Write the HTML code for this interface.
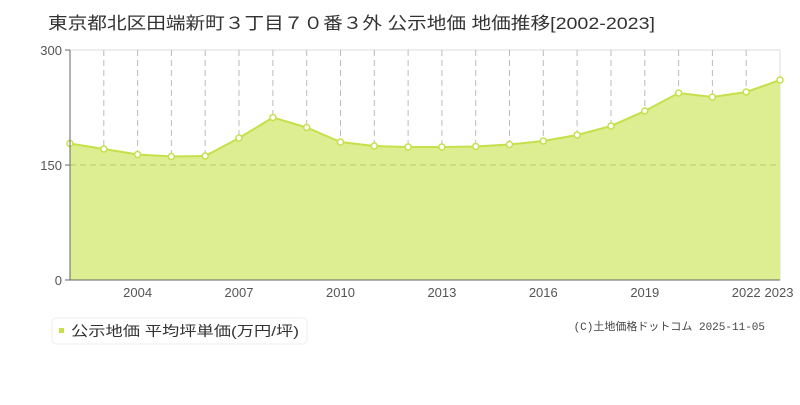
<!DOCTYPE html>
<html><head><meta charset="utf-8"><style>
body{margin:0;background:#fff;width:800px;height:400px;overflow:hidden;font-family:"Liberation Sans","Noto Sans CJK JP",sans-serif}
</style></head><body>
<svg width="800" height="400" xmlns="http://www.w3.org/2000/svg" font-family="Liberation Sans, Noto Sans CJK JP, sans-serif">
<text x="48" y="29" font-size="17" fill="#333" textLength="607" lengthAdjust="spacingAndGlyphs">東京都北区田端新町３丁目７０番３外 公示地価 地価推移[2002-2023]</text>
<line x1="70" y1="50" x2="780" y2="50" stroke="#ddd"/>
<line x1="780" y1="50" x2="780" y2="280" stroke="#ddd"/>
<g stroke="#bbb" stroke-dasharray="6,4">
<line x1="103.8" y1="50" x2="103.8" y2="280"/><line x1="137.6" y1="50" x2="137.6" y2="280"/><line x1="171.4" y1="50" x2="171.4" y2="280"/><line x1="205.2" y1="50" x2="205.2" y2="280"/><line x1="239" y1="50" x2="239" y2="280"/><line x1="272.9" y1="50" x2="272.9" y2="280"/><line x1="306.7" y1="50" x2="306.7" y2="280"/><line x1="340.5" y1="50" x2="340.5" y2="280"/><line x1="374.3" y1="50" x2="374.3" y2="280"/><line x1="408.1" y1="50" x2="408.1" y2="280"/><line x1="441.9" y1="50" x2="441.9" y2="280"/><line x1="475.7" y1="50" x2="475.7" y2="280"/><line x1="509.5" y1="50" x2="509.5" y2="280"/><line x1="543.3" y1="50" x2="543.3" y2="280"/><line x1="577.1" y1="50" x2="577.1" y2="280"/><line x1="611" y1="50" x2="611" y2="280"/><line x1="644.8" y1="50" x2="644.8" y2="280"/><line x1="678.6" y1="50" x2="678.6" y2="280"/><line x1="712.4" y1="50" x2="712.4" y2="280"/><line x1="746.2" y1="50" x2="746.2" y2="280"/>
</g>
<polygon fill="#dced92" points="70,280 70,143.5 103.8,149 137.6,154.5 171.4,156.5 205.2,156 239,138 272.9,117.5 306.7,127.5 340.5,142 374.3,146 408.1,147 441.9,147 475.7,146.5 509.5,144.5 543.3,141 577.1,135 611,126 644.8,111 678.6,93 712.4,97 746.2,92 780,80 780,280"/>
<line x1="70" y1="165" x2="780" y2="165" stroke="#bcc77a" stroke-dasharray="6,4"/>
<polyline fill="none" stroke="#c5e04a" stroke-width="2" points="70,143.5 103.8,149 137.6,154.5 171.4,156.5 205.2,156 239,138 272.9,117.5 306.7,127.5 340.5,142 374.3,146 408.1,147 441.9,147 475.7,146.5 509.5,144.5 543.3,141 577.1,135 611,126 644.8,111 678.6,93 712.4,97 746.2,92 780,80"/>
<g fill="#fff" stroke="#c5e04a" stroke-width="1.5">
<circle cx="70" cy="143.5" r="3"/><circle cx="103.8" cy="149" r="3"/><circle cx="137.6" cy="154.5" r="3"/><circle cx="171.4" cy="156.5" r="3"/><circle cx="205.2" cy="156" r="3"/><circle cx="239" cy="138" r="3"/><circle cx="272.9" cy="117.5" r="3"/><circle cx="306.7" cy="127.5" r="3"/><circle cx="340.5" cy="142" r="3"/><circle cx="374.3" cy="146" r="3"/><circle cx="408.1" cy="147" r="3"/><circle cx="441.9" cy="147" r="3"/><circle cx="475.7" cy="146.5" r="3"/><circle cx="509.5" cy="144.5" r="3"/><circle cx="543.3" cy="141" r="3"/><circle cx="577.1" cy="135" r="3"/><circle cx="611" cy="126" r="3"/><circle cx="644.8" cy="111" r="3"/><circle cx="678.6" cy="93" r="3"/><circle cx="712.4" cy="97" r="3"/><circle cx="746.2" cy="92" r="3"/><circle cx="780" cy="80" r="3"/>
</g>
<line x1="70" y1="50" x2="70" y2="280" stroke="#666"/>
<line x1="70" y1="280" x2="780" y2="280" stroke="#666"/>
<g stroke="#666"><line x1="65" y1="50" x2="70" y2="50"/><line x1="65" y1="165" x2="70" y2="165"/><line x1="65" y1="280" x2="70" y2="280"/></g>
<g font-size="13" fill="#555" text-anchor="end"><text x="62" y="55">300</text><text x="62" y="170">150</text><text x="62" y="285">0</text></g>
<g font-size="13" fill="#555" text-anchor="middle"><text x="137.6" y="297">2004</text><text x="239" y="297">2007</text><text x="340.5" y="297">2010</text><text x="441.9" y="297">2013</text><text x="543.3" y="297">2016</text><text x="644.8" y="297">2019</text><text x="746.2" y="297">2022</text><text x="779" y="297">2023</text></g>
<rect x="52" y="318" width="255" height="26" rx="4" fill="#fff" stroke="#eee"/>
<rect x="59" y="328" width="5" height="5" fill="#c5e04a"/>
<text x="71" y="336" font-size="14" fill="#333" textLength="228" lengthAdjust="spacingAndGlyphs">公示地価 平均坪単価(万円/坪)</text>
<text x="765" y="330" font-size="11" fill="#444" text-anchor="end" font-family="Liberation Mono, Noto Sans CJK JP, monospace">(C)土地価格ドットコム 2025-11-05</text>
</svg>
</body></html>
